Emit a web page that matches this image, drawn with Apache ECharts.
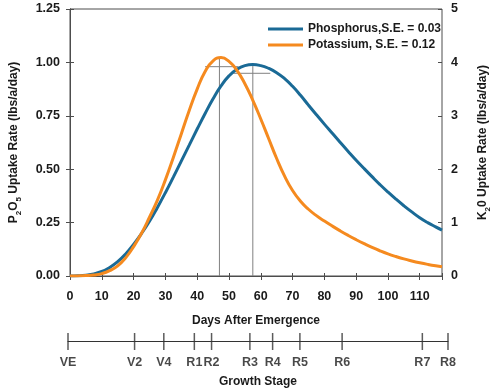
<!DOCTYPE html>
<html>
<head>
<meta charset="utf-8">
<script src="https://cdn.jsdelivr.net/npm/echarts@6/dist/echarts.min.js"></script>
<style>html,body{margin:0;padding:0;background:#fff}#c{width:500px;height:389px}</style>
</head>
<body>
<div id="c"></div>
<script>
// Days after emergence sampled
var days = [0, 2.5, 5, 7.5, 10, 12.5, 15, 17.5, 20, 22.5, 25, 27.5, 30, 32.5, 35, 37.5, 40, 42.5, 45, 47.5, 50, 52.5, 55, 57.5, 60, 62.5, 65, 67.5, 70, 72.5, 75, 77.5, 80, 82.5, 85, 87.5, 90, 92.5, 95, 97.5, 100, 102.5, 105, 107.5, 110, 112.5, 115, 117];
// Phosphorus uptake rate, P2O5 (lbs/a/day), left axis
var phosphorus = [0, 0.001, 0.004, 0.01, 0.021, 0.04, 0.067, 0.103, 0.148, 0.199, 0.256, 0.321, 0.39, 0.463, 0.538, 0.613, 0.688, 0.761, 0.83, 0.89, 0.937, 0.968, 0.985, 0.99, 0.985, 0.972, 0.952, 0.924, 0.888, 0.846, 0.8, 0.755, 0.711, 0.668, 0.625, 0.583, 0.542, 0.503, 0.465, 0.428, 0.393, 0.36, 0.329, 0.3, 0.273, 0.25, 0.23, 0.215];
// Potassium uptake rate, K2O (lbs/a/day), right axis
var potassium = [0, 0.002, 0.008, 0.02, 0.045, 0.1, 0.19, 0.34, 0.55, 0.8, 1.1, 1.42, 1.8, 2.22, 2.66, 3.1, 3.5, 3.83, 4.03, 4.09, 4.02, 3.85, 3.6, 3.29, 2.94, 2.57, 2.2, 1.87, 1.6, 1.4, 1.25, 1.13, 1.03, 0.935, 0.845, 0.76, 0.68, 0.605, 0.535, 0.472, 0.415, 0.365, 0.32, 0.282, 0.248, 0.218, 0.192, 0.175];
// Peak marker lines
var pPeakV = [[57.5, 0], [57.5, 0.99]];
var pPeakH = [[51.4, 0.949], [63, 0.949]];
var kPeakV = [[47, 0], [47, 4.09]];
var kPeakH = [[42.5, 3.92], [53, 3.92]];
// Growth stages
var stageNames = ['VE', 'V2', 'V4', 'R1', 'R2', 'R3', 'R4', 'R5', 'R6', 'R7', 'R8'];
var stageDays = [0, 20.5, 29.5, 38.9, 44.2, 56, 63, 71.4, 84.4, 109.1, 117];
var legendNames = ['Phosphorus,S.E. = 0.03', 'Potassium, S.E. = 0.12'];

var FONT = 'Liberation Sans, Arial, sans-serif';
var AX = '#4d4d4d';
var TXT = '#1a1a1a';
function pairs(xs, ys) { return xs.map(function (x, i) { return [x, ys[i]]; }); }

var chart = echarts.init(document.getElementById('c'), null, {renderer: 'canvas'});
var labelStyle = {color: TXT, fontFamily: FONT, fontWeight: 'bold', fontSize: 12.5};
var nameRich = {
  b: {fontFamily: FONT, fontWeight: 'bold', fontSize: 12, color: TXT, lineHeight: 16, verticalAlign: 'middle'},
  s: {fontFamily: FONT, fontWeight: 'bold', fontSize: 8, color: TXT, lineHeight: 18, verticalAlign: 'bottom'}
};

chart.setOption({
  animation: false,
  backgroundColor: '#fff',
  grid: [
    {left: 68, right: 52, top: 9, height: 267, show: true, borderColor: AX, borderWidth: 1, backgroundColor: 'transparent'},
    {left: 68, right: 52, top: 336, height: 17}
  ],
  legend: {
    data: legendNames, orient: 'vertical', left: 263, top: 18, itemWidth: 35, itemHeight: 3, itemGap: 4,
    icon: 'rect', selectedMode: false,
    textStyle: {color: TXT, fontFamily: FONT, fontWeight: 'bold', fontSize: 12}
  },
  xAxis: [
    {type: 'value', gridIndex: 0, position: 'bottom', min: 0, max: 117, interval: 10,
     axisLine: {lineStyle: {color: AX}}, axisTick: {length: 4, lineStyle: {color: AX}},
     axisLabel: Object.assign({margin: 14, formatter: function (v) { return v % 10 === 0 ? v : ''; }}, labelStyle),
     splitLine: {show: false},
     name: 'Days After Emergence', nameLocation: 'middle', nameGap: 39,
     nameTextStyle: {color: TXT, fontFamily: FONT, fontWeight: 'bold', fontSize: 12}},
    {type: 'value', gridIndex: 0, position: 'bottom', min: 0, max: 117, interval: 10,
     axisLine: {show: false}, axisTick: {inside: true, length: 3, lineStyle: {color: AX}},
     axisLabel: {show: false}, splitLine: {show: false}},
    {type: 'value', gridIndex: 1, min: 0, max: 117,
     axisLine: {onZero: true, lineStyle: {color: '#333'}}, axisTick: {show: false},
     axisLabel: {show: false}, splitLine: {show: false},
     name: 'Growth Stage', nameLocation: 'middle', nameGap: 29,
     nameTextStyle: {color: TXT, fontFamily: FONT, fontWeight: 'bold', fontSize: 12}}
  ],
  yAxis: [
    {type: 'value', gridIndex: 0, position: 'left', min: 0, max: 1.25, interval: 0.25,
     axisLine: {show: true, lineStyle: {color: AX}}, axisTick: {show: true, length: 4, lineStyle: {color: AX}},
     axisLabel: Object.assign({margin: 10, formatter: function (v) { return v.toFixed(2); }}, labelStyle),
     splitLine: {show: false},
     name: '{b|P}{s|2}{b|O}{s|5}{b| Uptake Rate (lbs/a/day)}', nameLocation: 'middle', nameGap: 47, nameRotate: 90,
     nameTextStyle: {rich: nameRich}},
    {type: 'value', gridIndex: 0, position: 'right', min: 0, max: 5, interval: 1,
     axisLine: {show: true, lineStyle: {color: AX}}, axisTick: {show: true, length: 4, lineStyle: {color: AX}},
     axisLabel: Object.assign({margin: 9}, labelStyle),
     splitLine: {show: false},
     name: '{b|K}{s|2}{b|0 Uptake Rate (lbs/a/day)}', nameLocation: 'middle', nameGap: 32, nameRotate: 90,
     nameTextStyle: {rich: nameRich}},
    {type: 'value', gridIndex: 0, position: 'left', min: 0, max: 1.25, interval: 0.25,
     axisLine: {show: false}, axisTick: {show: true, inside: true, length: 4, lineStyle: {color: AX}},
     axisLabel: {show: false}, splitLine: {show: false}},
    {type: 'value', gridIndex: 0, position: 'right', min: 0, max: 5, interval: 1,
     axisLine: {show: false}, axisTick: {show: true, inside: true, length: 4, lineStyle: {color: AX}},
     axisLabel: {show: false}, splitLine: {show: false}},
    {type: 'value', gridIndex: 1, min: -1, max: 1, show: false}
  ],
  series: [
    {type: 'line', xAxisIndex: 0, yAxisIndex: 0, data: pPeakV, symbol: 'none', silent: true, z: 1, lineStyle: {color: '#808080', width: 1}},
    {type: 'line', xAxisIndex: 0, yAxisIndex: 0, data: pPeakH, symbol: 'none', silent: true, z: 1, lineStyle: {color: '#808080', width: 1}},
    {type: 'line', xAxisIndex: 0, yAxisIndex: 1, data: kPeakV, symbol: 'none', silent: true, z: 1, lineStyle: {color: '#808080', width: 1}},
    {type: 'line', xAxisIndex: 0, yAxisIndex: 1, data: kPeakH, symbol: 'none', silent: true, z: 1, lineStyle: {color: '#808080', width: 1}},
    {name: legendNames[0], type: 'line', xAxisIndex: 0, yAxisIndex: 0, data: pairs(days, phosphorus), smooth: true,
     symbol: 'none', showSymbol: false, z: 3, color: '#1a6a96', lineStyle: {color: '#1a6a96', width: 3}},
    {name: legendNames[1], type: 'line', xAxisIndex: 0, yAxisIndex: 1, data: pairs(days, potassium), smooth: true,
     symbol: 'none', showSymbol: false, z: 3, color: '#f58a1f', lineStyle: {color: '#f58a1f', width: 3}},
    {type: 'scatter', xAxisIndex: 2, yAxisIndex: 4, silent: true,
     data: stageDays.map(function (d, i) { return {value: [d, 0], name: stageNames[i]}; }),
     symbol: 'rect', symbolSize: [1.5, 17], itemStyle: {color: '#333'},
     label: {show: true, position: 'bottom', distance: 6, formatter: function (p) { return p.name; },
             color: TXT, fontFamily: FONT, fontWeight: 'bold', fontSize: 12.5}}
  ]
});
</script>
</body>
</html>
